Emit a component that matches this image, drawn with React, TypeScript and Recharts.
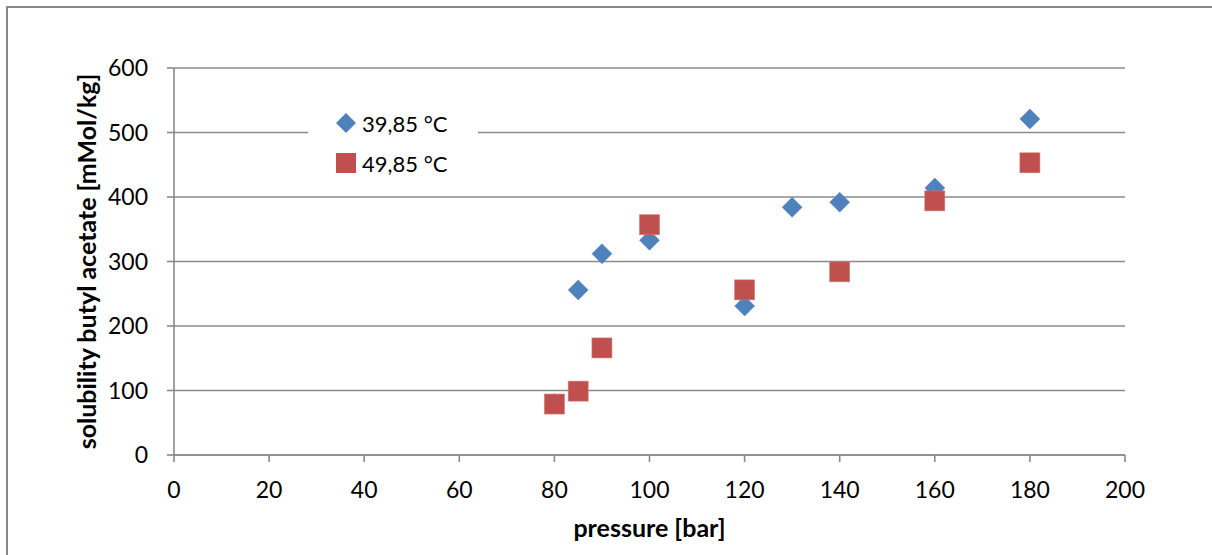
import React from 'react';
import { ScatterChart, Scatter, XAxis, YAxis, CartesianGrid, Legend } from 'recharts';

const pressure3985 = [80, 85, 90, 100, 120, 130, 140, 160, 180];
const solubility3985 = [80, 256, 312, 333, 231, 384, 392, 414, 521];

const pressure4985 = [80, 85, 90, 100, 120, 140, 160, 180];
const solubility4985 = [79, 99, 166, 357, 256, 284, 394, 453];

const xTicks = [0, 20, 40, 60, 80, 100, 120, 140, 160, 180, 200];
const yTicks = [0, 100, 200, 300, 400, 500, 600];

const seriesNames = ['39,85 °C', '49,85 °C'];

const BLUE = '#4F81BD';
const RED = '#C0504D';
const GRID = '#8A8A8A';
const FONT = 'Lato, "Open Sans", sans-serif';

const data3985 = pressure3985.map((p, i) => ({ x: p, y: solubility3985[i] }));
const data4985 = pressure4985.map((p, i) => ({ x: p, y: solubility4985[i] }));

const Diamond = (props: any) => {
  const { cx, cy } = props;
  const r = 10;
  return (
    <polygon
      points={`${cx},${cy - r} ${cx + r},${cy} ${cx},${cy + r} ${cx - r},${cy}`}
      fill={BLUE}
      stroke={BLUE}
      strokeWidth={0.5}
    />
  );
};

const Square = (props: any) => {
  const { cx, cy } = props;
  const s = 10;
  return <rect x={cx - s} y={cy - s} width={s * 2} height={s * 2} fill={RED} stroke="#D27B78" strokeWidth={0.6} />;
};

const YTitle = (props: any) => {
  const { viewBox } = props;
  const x = 96;
  const y = viewBox.y + viewBox.height / 2;
  return (
    <text
      x={x}
      y={y}
      transform={`rotate(-90 ${x} ${y})`}
      textAnchor="middle"
      fontFamily={FONT}
      fontWeight="bold"
      fontSize={25}
      fill="#000"
    >
      solubility butyl acetate [mMol/kg]
    </text>
  );
};

const XTitle = (props: any) => {
  const { viewBox } = props;
  const x = viewBox.x + viewBox.width / 2;
  return (
    <text x={x} y={537} textAnchor="middle" fontFamily={FONT} fontWeight="bold" fontSize={25} fill="#000">
      pressure [bar]
    </text>
  );
};

const LegendBox = () => (
  <div style={{ fontFamily: FONT, fontSize: 22, color: '#000' }}>
    <div style={{ display: 'flex', alignItems: 'center', height: 40, paddingLeft: 27 }}>
      <svg width={22} height={22} style={{ marginRight: 5 }}>
        <polygon points="11,1 21,11 11,21 1,11" fill={BLUE} />
      </svg>
      <span>{seriesNames[0]}</span>
    </div>
    <div style={{ display: 'flex', alignItems: 'center', height: 40, paddingLeft: 27 }}>
      <svg width={22} height={22} style={{ marginRight: 5 }}>
        <rect x={1} y={1} width={20} height={20} fill={RED} />
      </svg>
      <span>{seriesNames[1]}</span>
    </div>
  </div>
);

const App = () => {
  return (
    <div style={{ position: 'fixed', left: 0, top: 0, width: 1212, height: 555, overflow: 'hidden', background: '#fff' }}>
      <div
        style={{
          position: 'absolute',
          left: 6,
          top: 6,
          width: 1300,
          height: 700,
          border: '2px solid #888',
        }}
      />
      <div style={{ position: 'absolute', left: 0, top: 0 }}>
        <ScatterChart width={1212} height={555} margin={{ top: 68, right: 87, bottom: 40, left: 0 }}>
          <CartesianGrid vertical={false} stroke={GRID} strokeWidth={1.6} />
          <XAxis
            type="number"
            dataKey="x"
            domain={[0, 200]}
            ticks={xTicks}
            interval={0}
            height={60}
            stroke={GRID}
            strokeWidth={1.6}
            tickSize={7}
            tickMargin={20}
            tick={{ fill: '#000', fontFamily: FONT, fontSize: 23 }}
            label={<XTitle />}
          />
          <YAxis
            type="number"
            dataKey="y"
            domain={[0, 600]}
            ticks={yTicks}
            interval={0}
            width={174}
            stroke={GRID}
            strokeWidth={1.6}
            tickSize={7}
            tickMargin={19}
            tick={{ fill: '#000', fontFamily: FONT, fontSize: 23 }}
            label={<YTitle />}
          />
          <Legend
            layout="vertical"
            align="center"
            verticalAlign="middle"
            content={<LegendBox />}
            wrapperStyle={{ position: 'absolute', left: 308, top: 103, width: 170, height: 80, background: '#fff' }}
          />
          <Scatter name={seriesNames[0]} data={data3985} shape={<Diamond />} isAnimationActive={false} />
          <Scatter name={seriesNames[1]} data={data4985} shape={<Square />} isAnimationActive={false} />
        </ScatterChart>
      </div>
    </div>
  );
};

export default App;
